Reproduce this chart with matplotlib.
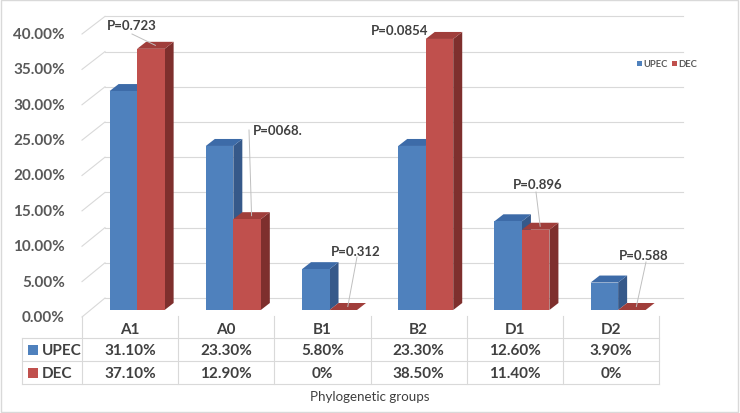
import matplotlib
matplotlib.use("Agg")
import matplotlib.pyplot as plt
from matplotlib.patches import Polygon, Rectangle

groups = ["A1", "A0", "B1", "B2", "D1", "D2"]
upec = [31.1, 23.3, 5.8, 23.3, 12.6, 3.9]
dec = [37.1, 12.9, 0.0, 38.5, 11.4, 0.0]
upec_txt = ["31.10%", "23.30%", "5.80%", "23.30%", "12.60%", "3.90%"]
dec_txt = ["37.10%", "12.90%", "0%", "38.50%", "11.40%", "0%"]
p_values = ["P=0.723", "P=0068.", "P=0.312", "P=0.0854", "P=0.896", "P=0.588"]
yticks = [0, 5, 10, 15, 20, 25, 30, 35, 40]

# pixel -> data helpers (figure is 740x414 px, axes covers it all)
U = 1 / 96.2   # data x per px
V = 1 / 7.04   # data y per px
def dx(px):
    return (px - 82) * U - 0.5
def dy(py):
    return (311 - py) * V

plt.rcParams['font.family'] = ['Lato', 'DejaVu Sans']
fig = plt.figure(figsize=(7.4, 4.14), dpi=100)
ax = fig.add_axes([0, 0, 1, 1])
ax.set_xlim(dx(0), dx(740))
ax.set_ylim(dy(414), dy(0))
ax.axis("off")

grid = "#D9D9D9"
txt = "#595959"

# back wall gridlines and side wall
for p in yticks:
    ax.plot([dx(105), dx(683)], [p + 12 * V, p + 12 * V], color=grid, lw=0.8, zorder=1)
    ax.plot([dx(82), dx(105)], [dy(318 - p * 7.075), p + 12 * V], color=grid, lw=0.8, zorder=1)
    ax.text(dx(65), dy(318 - p * 7.075), f"{p:.2f}%", ha="right", va="center",
            fontsize=11, fontweight="bold", color=txt)

# 3D bars
w = 27.5 * U
off = 0.073
ddx, ddy = 9 * U, 7 * V
styles = [("#4F81BD", "#3D6BA8", "#36598A"), ("#C0504D", "#A03E3B", "#7E2F2D")]

def bar3d(x0, h, cols):
    front, top, side = cols
    x1 = x0 + w
    ax.add_patch(Polygon([(x1, 0), (x1 + ddx, ddy), (x1 + ddx, h + ddy), (x1, h)],
                         closed=True, facecolor=side, edgecolor="none", zorder=3))
    ax.add_patch(Polygon([(x0, h), (x0 + ddx, h + ddy), (x1 + ddx, h + ddy), (x1, h)],
                         closed=True, facecolor=top, edgecolor="none", zorder=3))
    if h > 0:
        ax.bar(x0, h, width=w, align="edge", color=front, zorder=3)

for i in range(len(groups)):
    bar3d(i + off - w, upec[i], styles[0])
    bar3d(i + off, dec[i], styles[1])

# P-value labels with leader lines
p_pos = [(107, 26), (253, 131), (331, 252), (371, 31), (513, 185), (619, 256)]
p_lead = [(132, 35), (249, 131), (357, 258), None, (536, 193), (646, 263)]
for i, lab in enumerate(p_values):
    lx, ly = p_pos[i]
    ax.text(dx(lx), dy(ly), lab, ha="left", va="center", fontsize=9.5,
            fontweight="bold", color="#404040", zorder=5)
    if p_lead[i] is not None:
        sx, sy = p_lead[i]
        ex = i + off + w / 2 + ddx / 2
        ey = dec[i] + ddy / 2
        ax.plot([dx(sx), ex], [dy(sy), ey], color="#BFBFBF", lw=0.7, zorder=4)

# legend (top right)
for (sx, name, col) in [(637, "UPEC", "#4F81BD"), (672, "DEC", "#C0504D")]:
    ax.add_patch(Rectangle((dx(sx), dy(66.5)), 5 * U, 5 * V, facecolor=col,
                           edgecolor="none"))
    ax.text(dx(sx + 6.5), dy(64), name, ha="left", va="center", fontsize=6.8,
            fontweight="bold", color=txt)

# data table
for k in range(len(groups) + 1):
    ax.plot([k - 0.5, k - 0.5], [dy(317), dy(385)], color=grid, lw=0.8, zorder=1)
for yy in [339, 362, 385]:
    ax.plot([dx(22), dx(659)], [dy(yy), dy(yy)], color=grid, lw=0.8, zorder=1)
ax.plot([dx(22), dx(22)], [dy(339), dy(385)], color=grid, lw=0.8, zorder=1)

tcol = "#404040"
for i, g in enumerate(groups):
    ax.text(i, dy(330), g, ha="center", va="center", fontsize=11,
            fontweight="bold", color=tcol)
    ax.text(i, dy(351), upec_txt[i], ha="center", va="center", fontsize=11,
            fontweight="bold", color=tcol)
    ax.text(i, dy(374), dec_txt[i], ha="center", va="center", fontsize=11,
            fontweight="bold", color=tcol)

for (yy, name, col) in [(351, "UPEC", "#4F81BD"), (374, "DEC", "#C0504D")]:
    ax.add_patch(Rectangle((dx(28), dy(yy + 5)), 10 * U, 10 * V, facecolor=col,
                           edgecolor="none"))
    ax.text(dx(42), dy(yy), name, ha="left", va="center", fontsize=11,
            fontweight="bold", color=tcol)

ax.text(dx(370), dy(397), "Phylogenetic groups", ha="center", va="center",
        fontsize=9.6, color=tcol)

# chart frame
fig.patches.append(Rectangle((0.002, 0.003), 0.995, 0.994, transform=fig.transFigure,
                             fill=False, edgecolor="#D9D9D9", lw=1))

fig.savefig("out.png", dpi=100)
